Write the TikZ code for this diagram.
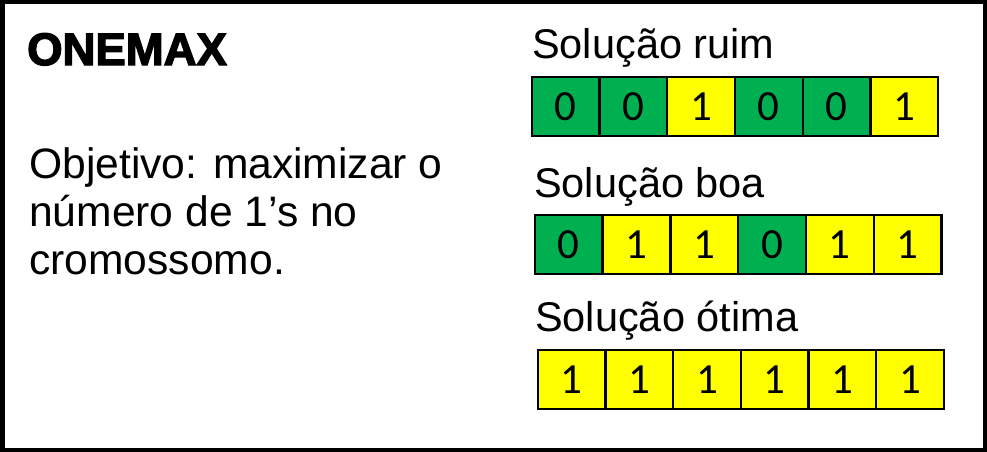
\documentclass[tikz,border=0pt]{standalone}
\usepackage{fontspec}
\setmainfont{Liberation Sans}
\newfontfamily\cellfont{Carlito}
\newfontfamily\heavyfont[FakeBold=3]{Liberation Sans Bold}
\definecolor{cgreen}{HTML}{00B050}
\definecolor{cyellow}{HTML}{FFFF00}
\tikzset{
  cell/.style={draw=black, line width=2.4pt, minimum width=67.8pt, minimum height=59.5pt, inner sep=0pt, anchor=north west, font=\cellfont\fontsize{43}{43}\selectfont},
  lbl/.style={anchor=base west, inner sep=0pt, font=\fontsize{41.5}{41.5}\selectfont},
}
\begin{document}
\begin{tikzpicture}[x=1pt,y=-1pt]
\useasboundingbox (0,0) rectangle (987,452);
\draw[line width=4.5pt] (2.25,2.25) rectangle (984.75,449.75) node[coordinate] (frame) {};
\node[anchor=base west, inner sep=0pt, font=\heavyfont\fontsize{45.5}{45.5}\selectfont] (title) at (27,65) {ONEMAX};
\node[anchor=base west, inner sep=0pt, align=left, font=\fontsize{42.6}{48}\selectfont] (obj) at (29,274) {Objetivo: maximizar o\\número de 1’s no\\cromossomo.};
\node[lbl] (l1) at (532,59) {Solução ruim};
\node[lbl] (l2) at (534,197) {Solução boa};
\node[lbl] (l3) at (535,331) {Solução ótima};
\foreach \c/\v [count=\i from 0] in {cgreen/0,cgreen/0,cyellow/1,cgreen/0,cgreen/0,cyellow/1}
  \node[cell, fill=\c] (a\i) at (530.5+67.75*\i,75.5) {\v};
\foreach \c/\v [count=\i from 0] in {cgreen/0,cyellow/1,cyellow/1,cgreen/0,cyellow/1,cyellow/1}
  \node[cell, fill=\c] (b\i) at (533.5+67.8*\i,213.5) {\v};
\foreach \c/\v [count=\i from 0] in {cyellow/1,cyellow/1,cyellow/1,cyellow/1,cyellow/1,cyellow/1}
  \node[cell, fill=\c] (c\i) at (536.5+67.7*\i,348.5) {\v};
\end{tikzpicture}
\end{document}
